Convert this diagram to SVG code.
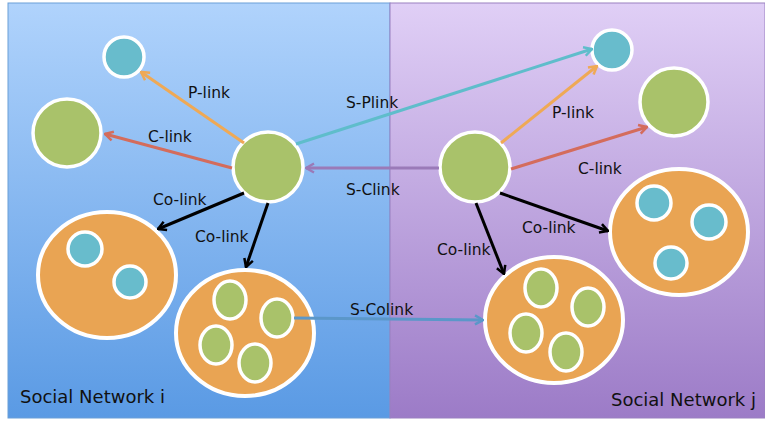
<svg xmlns="http://www.w3.org/2000/svg" width="765" height="423" viewBox="0 0 765 423">
<defs>
<linearGradient id="gBlue" x1="0" y1="0" x2="0" y2="1"><stop offset="0" stop-color="#b0d3fc"/><stop offset="1" stop-color="#5a9ae4"/></linearGradient>
<linearGradient id="gPurple" x1="0" y1="0" x2="0" y2="1"><stop offset="0" stop-color="#e0cff6"/><stop offset="1" stop-color="#9c7bc7"/></linearGradient>
<marker id="aOr" viewBox="0 0 12 12" refX="11" refY="6" markerWidth="12" markerHeight="12" orient="auto" markerUnits="userSpaceOnUse"><path d="M3,1.5 L11,6 L3,10.5" fill="none" stroke="#efa955" stroke-width="2.5"/></marker>
<marker id="aRed" viewBox="0 0 12 12" refX="11" refY="6" markerWidth="12" markerHeight="12" orient="auto" markerUnits="userSpaceOnUse"><path d="M3,1.5 L11,6 L3,10.5" fill="none" stroke="#d46c5c" stroke-width="2.5"/></marker>
<marker id="aTeal" viewBox="0 0 12 12" refX="11" refY="6" markerWidth="12" markerHeight="12" orient="auto" markerUnits="userSpaceOnUse"><path d="M3,1.5 L11,6 L3,10.5" fill="none" stroke="#5fbdcb" stroke-width="2.5"/></marker>
<marker id="aPur" viewBox="0 0 12 12" refX="11" refY="6" markerWidth="12" markerHeight="12" orient="auto" markerUnits="userSpaceOnUse"><path d="M3,1.5 L11,6 L3,10.5" fill="none" stroke="#9a7ab8" stroke-width="2.5"/></marker>
<marker id="aBlk" viewBox="0 0 12 12" refX="11" refY="6" markerWidth="12" markerHeight="12" orient="auto" markerUnits="userSpaceOnUse"><path d="M3,1.5 L11,6 L3,10.5" fill="none" stroke="#000" stroke-width="2.5"/></marker>
<marker id="aBlue" viewBox="0 0 12 12" refX="11" refY="6" markerWidth="12" markerHeight="12" orient="auto" markerUnits="userSpaceOnUse"><path d="M3,1.5 L11,6 L3,10.5" fill="none" stroke="#5b97c9" stroke-width="2.5"/></marker>
</defs>
<style>
.g{fill:#a9c26a;stroke:#fff;stroke-width:3.5}
.t{fill:#68bccc;stroke:#fff;stroke-width:3.5}
.o{fill:#e9a453;stroke:#fff;stroke-width:4}
.lbl{font-family:"DejaVu Sans",sans-serif;font-size:15.5px;fill:#111}
.big{font-family:"DejaVu Sans",sans-serif;font-size:18px;fill:#111}
line{stroke-width:3}
</style>
<rect width="765" height="423" fill="#ffffff"/>
<g id="panel-i">
<rect x="8" y="3" width="382" height="415" fill="url(#gBlue)" stroke="#6a9fd8" stroke-width="1"/>
<text class="big" x="20" y="403">Social Network i</text>
</g>
<g id="panel-j">
<rect x="390" y="3" width="375" height="415" fill="url(#gPurple)" stroke="#9a80c0" stroke-width="1"/>
<text class="big" x="611" y="406">Social Network j</text>
</g>
<g id="n-left-teal"><circle class="t" cx="124" cy="57" r="20"/></g>
<g id="n-left-green"><circle class="g" cx="67" cy="133" r="34"/></g>
<g id="n-left-center"><circle class="g" cx="268" cy="167" r="35"/></g>
<g id="n-left-cluster1">
<ellipse class="o" cx="107" cy="275" rx="69" ry="63"/>
<circle class="t" cx="85" cy="249" r="17"/>
<circle class="t" cx="130" cy="282" r="16"/>
</g>
<g id="n-left-cluster2">
<ellipse class="o" cx="245" cy="333" rx="69" ry="63"/>
<ellipse class="g" cx="230" cy="300" rx="16" ry="19"/>
<ellipse class="g" cx="277" cy="318" rx="16" ry="19"/>
<ellipse class="g" cx="216" cy="345" rx="16" ry="19"/>
<ellipse class="g" cx="255" cy="363" rx="16" ry="19"/>
</g>
<g id="n-right-teal"><circle class="t" cx="612" cy="50" r="20"/></g>
<g id="n-right-green"><circle class="g" cx="674" cy="102" r="34"/></g>
<g id="n-right-center"><circle class="g" cx="475" cy="167" r="35"/></g>
<g id="n-right-cluster1">
<ellipse class="o" cx="679" cy="232" rx="69" ry="63"/>
<circle class="t" cx="654" cy="203" r="17"/>
<circle class="t" cx="709" cy="222" r="17"/>
<circle class="t" cx="671" cy="263" r="16"/>
</g>
<g id="n-right-cluster2">
<ellipse class="o" cx="554" cy="320" rx="69" ry="63"/>
<ellipse class="g" cx="541" cy="288" rx="16" ry="19"/>
<ellipse class="g" cx="588" cy="307" rx="16" ry="19"/>
<ellipse class="g" cx="526" cy="333" rx="16" ry="19"/>
<ellipse class="g" cx="566" cy="352" rx="16" ry="19"/>
</g>
<g id="connectors">
<line x1="244" y1="143" x2="141" y2="72" stroke="#efa955" marker-end="url(#aOr)"/>
<line x1="232" y1="168" x2="105" y2="134" stroke="#d46c5c" marker-end="url(#aRed)"/>
<line x1="296" y1="144" x2="592" y2="49" stroke="#5fbdcb" marker-end="url(#aTeal)"/>
<line x1="439" y1="168" x2="306" y2="168" stroke="#9a7ab8" stroke-width="3.5" marker-end="url(#aPur)"/>
<line x1="501" y1="143" x2="597" y2="66" stroke="#efa955" marker-end="url(#aOr)"/>
<line x1="511" y1="169" x2="647" y2="127" stroke="#d46c5c" marker-end="url(#aRed)"/>
<line x1="244" y1="193" x2="158" y2="229" stroke="#000" stroke-width="2.5" marker-end="url(#aBlk)"/>
<line x1="268" y1="203" x2="246" y2="267" stroke="#000" stroke-width="2.5" marker-end="url(#aBlk)"/>
<line x1="500" y1="193" x2="608" y2="231" stroke="#000" stroke-width="2.5" marker-end="url(#aBlk)"/>
<line x1="476" y1="203" x2="504" y2="274" stroke="#000" stroke-width="2.5" marker-end="url(#aBlk)"/>
<line x1="294" y1="318" x2="483" y2="320" stroke="#5b97c9" stroke-width="2.5" marker-end="url(#aBlue)"/>
<text class="lbl" x="188" y="98">P-link</text>
<text class="lbl" x="148" y="142">C-link</text>
<text class="lbl" x="346" y="108">S-Plink</text>
<text class="lbl" x="346" y="195">S-Clink</text>
<text class="lbl" x="153" y="205">Co-link</text>
<text class="lbl" x="195" y="242">Co-link</text>
<text class="lbl" x="552" y="118">P-link</text>
<text class="lbl" x="578" y="174">C-link</text>
<text class="lbl" x="522" y="233">Co-link</text>
<text class="lbl" x="437" y="255">Co-link</text>
<text class="lbl" x="350" y="315">S-Colink</text>
</g>
</svg>
